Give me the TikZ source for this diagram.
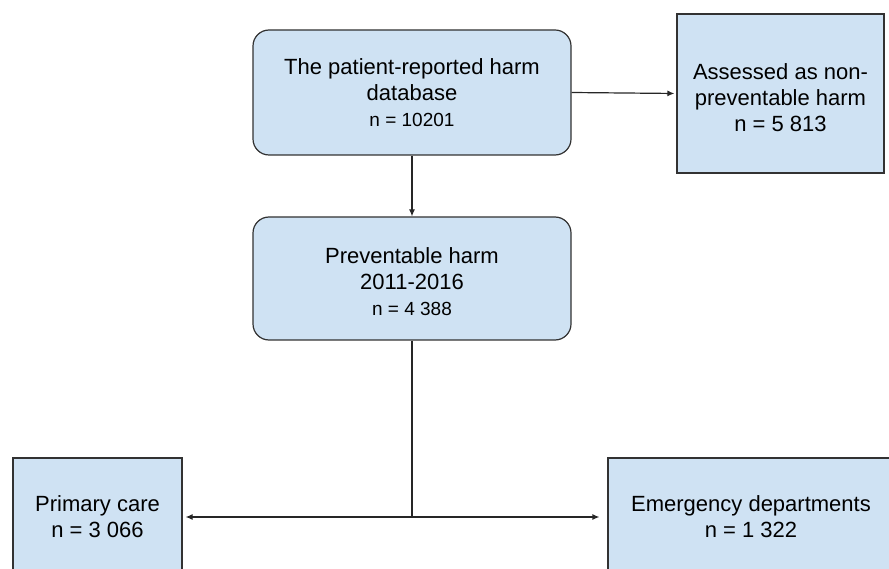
\documentclass[tikz,border=0pt]{standalone}
\usepackage{fontspec}
\setmainfont{Liberation Sans}
\usepackage{tikz}
\usetikzlibrary{arrows.meta, positioning, calc}
\definecolor{boxblue} {RGB}{207, 226, 243}
\definecolor{boxline} {RGB}{ 50,  50,  50}

\tikzset{
	flowbox/.style={draw=boxline, line width=1.2pt, fill=boxblue, align=center,
		inner sep=0pt, font=\fontsize{22}{26}\selectfont},
	roundbox/.style={flowbox, rounded corners=16pt},
	boxtext/.style={align=center, inner sep=0pt, font=\fontsize{22}{26}\selectfont},
	arr/.style={line width=1.2pt, draw=black!85, -{Latex[length=7pt,width=6pt]}}
}
\newcommand{\ncount}[1]{{\fontsize{19}{23}\selectfont #1}}

\begin{document}
\begin{tikzpicture}[x=1pt,y=-1pt]
	\useasboundingbox (0,0) rectangle (889,569);
	\node[roundbox, minimum width=318pt, minimum height=125pt] (db) at (412,92.5)
		{The patient-reported harm\\database\\\ncount{n = 10201}};
	\node[flowbox, minimum width=207pt, minimum height=159pt] (nonprev) at (780.5,93.5) {};
	\node[boxtext] (nonprevtxt) at (780.5,97.5)
		{Assessed as non-\\preventable harm\\n = 5~813};
	\node[roundbox, minimum width=318pt, minimum height=123pt] (prev) at (412,278.5) {};
	\node[boxtext] (prevtxt) at (412,282)
		{Preventable harm\\2011-2016\\\ncount{n = 4~388}};
	\node[flowbox, minimum width=169pt, minimum height=118pt] (primary) at (97.5,517)
		{Primary care\\n = 3~066};
	\node[flowbox, minimum width=286pt, minimum height=118pt] (emerg) at (751,517)
		{Emergency departments\\n = 1~322};
	\coordinate (split) at (412,517);

	\draw[arr, shorten >=2pt] (db.east) -- (nonprev.west);
	\draw[arr] (db.south) -- (prev.north);
	\draw[line width=1.2pt, draw=black!85] (prev.south) -- (split);
	\draw[arr, shorten >=3pt] (split) -- (primary.east);
	\draw[arr, shorten >=8pt] (split) -- (emerg.west);
\end{tikzpicture}
\end{document}
